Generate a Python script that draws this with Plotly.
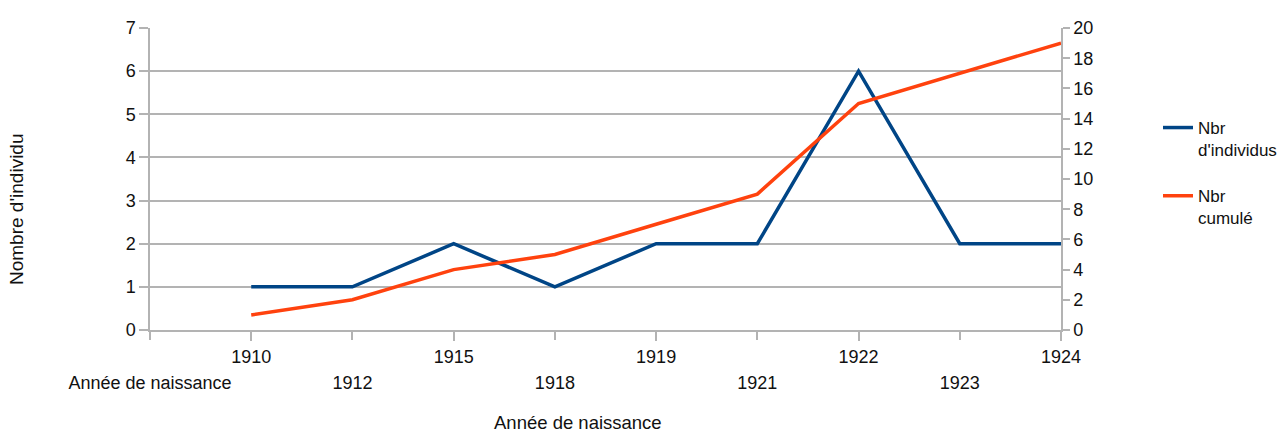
import plotly.graph_objects as go

# ---- data ----
axis_label = "Année de naissance"
years = ["1910", "1912", "1915", "1918", "1919", "1921", "1922", "1923", "1924"]
nbr_individus = [1, 1, 2, 1, 2, 2, 6, 2, 2]
nbr_cumule = [1, 2, 4, 5, 7, 9, 15, 17, 19]
series_names = ["Nbr<br>d'individus", "Nbr<br>cumulé"]
y_title = "Nombre d'individu"
x_title = "Année de naissance"

categories = [axis_label] + years
positions = list(range(len(categories)))
data_x = positions[1:]

FONT = "Liberation Sans, Arial, sans-serif"
GRID = "#b3b3b3"
BLUE = "#004586"
ORANGE = "#ff420e"
TXT = "#111111"

W, H = 1287, 435
L, R, T, B = 150, 226, 28, 105
PW, PH = W - L - R, H - T - B

fig = go.Figure()
fig.add_trace(go.Scatter(x=data_x, y=nbr_individus, name=series_names[0], mode="lines",
                         legendgroup="a",
                         line=dict(color=BLUE, width=3.5), xaxis="x", yaxis="y"))
fig.add_trace(go.Scatter(x=data_x, y=nbr_cumule, name=series_names[1], mode="lines",
                         legendgroup="b",
                         line=dict(color=ORANGE, width=3.5), xaxis="x2", yaxis="y2"))

row1_vals = [p for p in positions if p % 2 == 1]
row2_vals = [p for p in positions if p % 2 == 0]

tickfont = dict(family=FONT, size=18, color=TXT)
common_x = dict(range=[0, len(categories) - 1], showgrid=False, zeroline=False,
                ticks="outside", ticklen=9, tickcolor=GRID, tickwidth=1.5,
                tickfont=tickfont, fixedrange=True)

legend_left_px = 1158
legend_top_px = 110
fig.update_layout(
    width=W, height=H,
    margin=dict(l=L, r=R, t=T, b=B, autoexpand=False),
    paper_bgcolor="white", plot_bgcolor="white",
    showlegend=True,
    legend=dict(x=(legend_left_px - L) / PW, y=(H - B - legend_top_px) / PH,
                xanchor="left", yanchor="top", valign="top",
                font=dict(family=FONT, size=17, color=TXT),
                tracegroupgap=21, bgcolor="rgba(0,0,0,0)", borderwidth=0),
    xaxis=dict(**common_x, tickvals=row1_vals, ticktext=[categories[p] for p in row1_vals],
               showline=True, linecolor=GRID, linewidth=1.5, ticklabelstandoff=1),
    xaxis2=dict(**common_x, tickvals=row2_vals, ticktext=[categories[p] for p in row2_vals],
                overlaying="x", side="bottom", anchor="y2", showline=False,
                ticklabelstandoff=27),
    yaxis=dict(range=[0, 7], dtick=1, showgrid=True, gridcolor=GRID, gridwidth=1.5,
               zeroline=False, showline=True, linecolor=GRID, linewidth=1.5,
               ticks="outside", ticklen=9, tickcolor=GRID, tickwidth=1.5,
               tickfont=tickfont, fixedrange=True),
    yaxis2=dict(range=[0, 20], dtick=2, overlaying="y", side="right", showgrid=False,
                zeroline=False, showline=True, linecolor=GRID, linewidth=1.5,
                ticks="outside", ticklen=7, tickcolor=GRID, tickwidth=1.5,
                tickfont=tickfont, fixedrange=True),
    annotations=[
        dict(text=y_title, xref="paper", yref="paper",
             x=(16 - L) / PW, y=(H - B - 210) / PH,
             xanchor="center", yanchor="middle", textangle=-90, showarrow=False,
             font=dict(family=FONT, size=19, color=TXT)),
        dict(text=x_title, xref="paper", yref="paper",
             x=(578 - L) / PW, y=-(H - (H - B)) / PH,
             xanchor="center", yanchor="bottom", showarrow=False,
             font=dict(family=FONT, size=18.5, color=TXT)),
    ],
)

fig.write_html("out.html", config={"displayModeBar": False},
               post_script="document.body.style.margin='0px';")
